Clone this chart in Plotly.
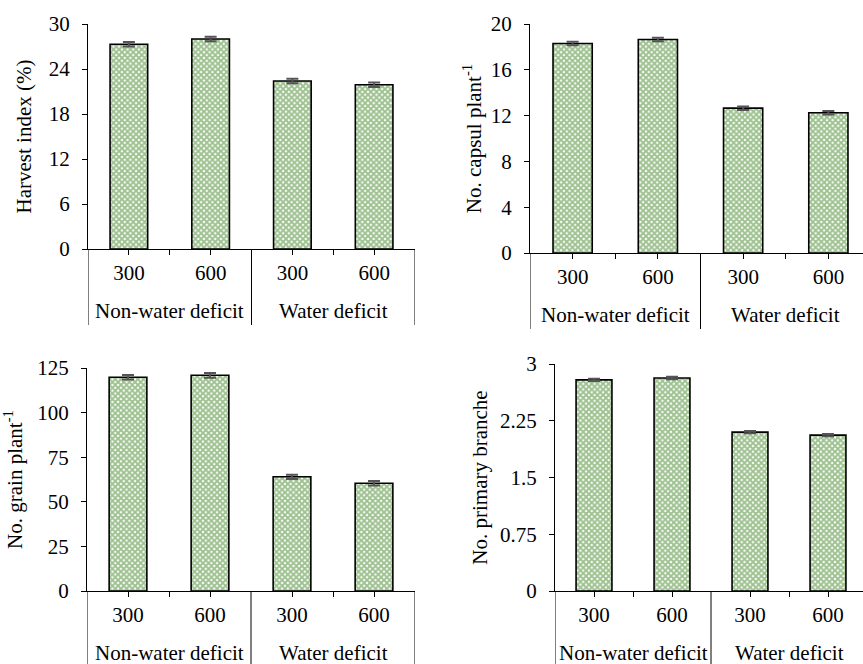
import plotly.graph_objects as go

groups = ["Non-water deficit", "Non-water deficit", "Water deficit", "Water deficit"]
levels = ["300", "600", "300", "600"]

harvest_index = [27.3, 28.0, 22.4, 21.9]
harvest_index_err = [0.3, 0.3, 0.3, 0.3]
capsule = [18.3, 18.65, 12.65, 12.25]
capsule_err = [0.15, 0.15, 0.15, 0.15]
grain = [119.8, 120.9, 64.0, 60.4]
grain_err = [1.3, 1.3, 1.2, 1.2]
branches = [2.79, 2.815, 2.10, 2.06]
branches_err = [0.015, 0.015, 0.015, 0.015]

titles = ["Harvest index (%)", "No. capsul plant<sup>-1</sup>",
          "No. grain plant<sup>-1</sup>", "No. primary branche"]
y_ticks = [[0, 6, 12, 18, 24, 30], [0, 4, 8, 12, 16, 20],
           [0, 25, 50, 75, 100, 125], [0, 0.75, 1.5, 2.25, 3]]
y_ticktext = [["0", "6", "12", "18", "24", "30"], ["0", "4", "8", "12", "16", "20"],
              ["0", "25", "50", "75", "100", "125"], ["0", "0.75", "1.5", "2.25", "3"]]
y_max = [30, 20, 125, 3]

series = [(harvest_index, harvest_index_err), (capsule, capsule_err),
          (grain, grain_err), (branches, branches_err)]

W, H = 863, 664
# pixel boxes: (x0, x1_visible, x1_full, ytop, ybottom)
boxes = [(88, 415, 415, 24, 249), (530, 863, 871, 24, 253),
         (87, 415, 415, 368, 591), (555, 863, 867, 364, 591)]
title_standoff = [11, 3, 10, 6]

FONT = "Liberation Serif"
FS = 21
pos = list(range(len(levels)))

# x ticks: at category centres and at boundaries inside a group
tickvals, ticktext = [], []
for k in pos:
    tickvals.append(k)
    ticktext.append(levels[k])
    if k + 1 < len(groups) and groups[k + 1] == groups[k]:
        tickvals.append(k + 0.5)
        ticktext.append("")
# group spans
spans = []
for k, g in enumerate(groups):
    if spans and spans[-1][0] == g:
        spans[-1][2] = k
    else:
        spans.append([g, k, k])

fig = go.Figure()
shapes, annotations = [], []
for i, ((vals, errs), box) in enumerate(zip(series, boxes)):
    n = "" if i == 0 else str(i + 1)
    fig.add_trace(go.Bar(
        x=pos, y=vals,
        xaxis="x" + n, yaxis="y" + n,
        error_y=dict(type="data", array=errs, color="#555555", thickness=2, width=6),
        marker=dict(color="white", line=dict(color="black", width=1.6),
                    pattern=dict(shape="x", fgcolor="#3d8422", bgcolor="white",
                                 size=4, solidity=0.72)),
        showlegend=False,
    ))
    x0, x1v, x1f, yt, yb = box
    r1 = -0.5 + len(levels) * (x1v - x0) / (x1f - x0)
    fig.layout["xaxis" + n] = dict(
        domain=[x0 / W, x1v / W], anchor="y" + n, automargin=False,
        range=[-0.5, r1], showline=True, linecolor="black", linewidth=1,
        tickvals=tickvals, ticktext=ticktext,
        ticks="outside", ticklen=5, tickcolor="black", ticklabelstandoff=0,
        tickfont=dict(family=FONT, size=FS, color="black"),
        showgrid=False, zeroline=False,
    )
    fig.layout["yaxis" + n] = dict(
        domain=[1 - yb / H, 1 - yt / H], anchor="x" + n, automargin=False,
        range=[0, y_max[i]], tickvals=y_ticks[i], ticktext=y_ticktext[i],
        showline=True, linecolor="black", linewidth=1,
        ticks="outside", ticklen=5, tickcolor="black", ticklabelstandoff=8,
        tickfont=dict(family=FONT, size=FS, color="black"),
        title=dict(text=titles[i], font=dict(family=FONT, size=FS, color="black"),
                   standoff=title_standoff[i]),
        showgrid=False, zeroline=False,
    )
    # group dividers and labels
    edges = sorted({s[1] - 0.5 for s in spans} | {s[2] + 0.5 for s in spans})
    for e in edges:
        shapes.append(dict(type="line", xref="x" + n, yref="paper",
                           x0=e, x1=e, y0=1 - yb / H, y1=1 - (yb + 76) / H,
                           line=dict(color="black", width=1)))
    for g, a, b in spans:
        annotations.append(dict(text=g, xref="x" + n, yref="paper",
                                x=(a + b) / 2, y=1 - (yb + 62) / H,
                                xanchor="center", yanchor="middle", showarrow=False,
                                font=dict(family=FONT, size=FS, color="black")))

fig.update_layout(
    width=W, height=H, margin=dict(l=0, r=0, t=0, b=0, autoexpand=False),
    plot_bgcolor="white", paper_bgcolor="white", bargap=0.54,
    font=dict(family=FONT, color="black"),
    shapes=shapes, annotations=annotations,
)
fig.write_html("out.html", config={"displayModeBar": False},
               post_script="document.body.style.margin='0px';document.body.style.overflow='hidden';")
